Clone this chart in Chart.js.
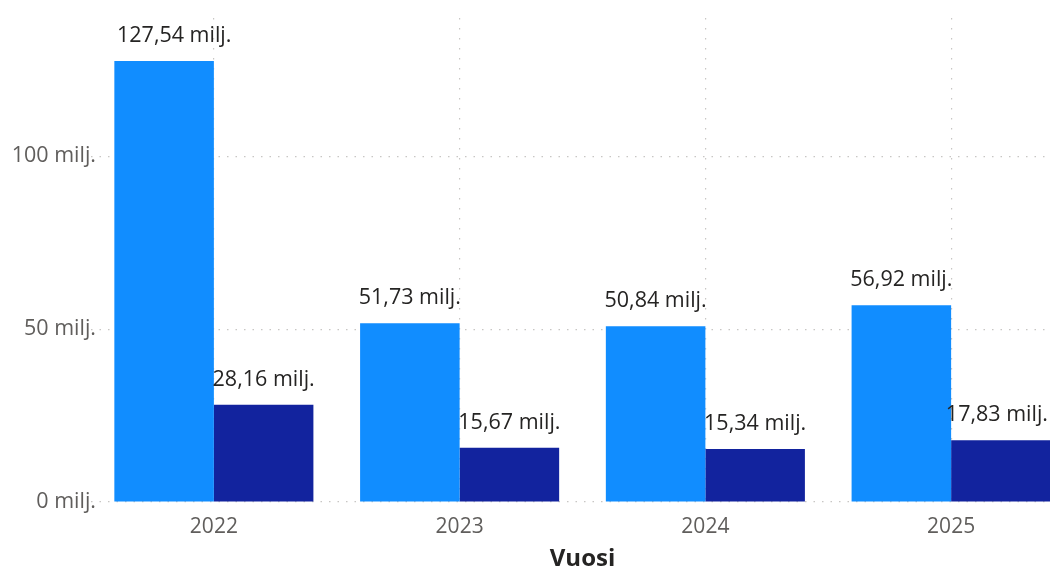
<!DOCTYPE html>
<html>
<head>
<meta charset="utf-8">
<script src="https://cdn.jsdelivr.net/npm/chart.js@4"></script>
<style>
  html, body { margin: 0; padding: 0; background: #fff; overflow: hidden; width: 1050px; height: 574px; }
  #wrap { position: absolute; left: 0; top: 0; width: 1074px; height: 574px; }
</style>
</head>
<body>
<div id="wrap"><canvas id="c" width="1074" height="574"></canvas></div>
<script>
const categories = ['2022', '2023', '2024', '2025'];
const seriesA = [127.54, 51.73, 50.84, 56.92];
const seriesB = [28.16, 15.67, 15.34, 17.83];
const yTicks = [0, 50, 100];

const FONT = "'Open Sans', 'Noto Sans', sans-serif";
const fmt = v => v.toFixed(2).replace('.', ',') + ' milj.';
const yFmt = v => v + ' milj.';
const VISIBLE_W = 1050;

const labelPlugin = {
  id: 'barLabels',
  afterDatasetsDraw(chart) {
    const ctx = chart.ctx;
    const xs = chart.scales.x;
    ctx.save();
    ctx.font = '21.5px ' + FONT;
    ctx.fillStyle = '#252423';
    ctx.textAlign = 'center';
    ctx.textBaseline = 'middle';
    const minL = xs.left + 26, maxR = VISIBLE_W - 2;
    chart.data.datasets.forEach((ds, di) => {
      const meta = chart.getDatasetMeta(di);
      meta.data.forEach((bar, i) => {
        const t = fmt(ds.data[i]);
        const w = ctx.measureText(t).width;
        let x = bar.x;
        if (x - w / 2 < minL) x = minL + w / 2;
        if (x + w / 2 > maxR) x = maxR - w / 2;
        ctx.fillText(t, x, bar.y - 25);
      });
    });
    ctx.restore();
  }
};

const yLabelPlugin = {
  id: 'yLabels',
  afterDraw(chart) {
    const ctx = chart.ctx;
    const y = chart.scales.y;
    ctx.save();
    ctx.font = '21.5px ' + FONT;
    ctx.fillStyle = '#605E5C';
    ctx.textAlign = 'right';
    ctx.textBaseline = 'middle';
    yTicks.forEach(v => {
      ctx.fillText(yFmt(v), y.right + 5, y.getPixelForValue(v));
    });
    ctx.restore();
  }
};

new Chart(document.getElementById('c'), {
  type: 'bar',
  data: {
    labels: categories,
    datasets: [
      { label: 'A', data: seriesA, backgroundColor: '#118DFF', borderWidth: 0 },
      { label: 'B', data: seriesB, backgroundColor: '#12239E', borderWidth: 0 }
    ]
  },
  options: {
    responsive: false,
    animation: false,
    layout: { padding: { top: 18, left: 0, right: 0, bottom: 0 } },
    plugins: { legend: { display: false }, tooltip: { enabled: false } },
    datasets: { bar: { categoryPercentage: 0.81, barPercentage: 1.0 } },
    scales: {
      x: {
        offset: true,
        border: { display: false, dash: [1.5, 8.5] },
        grid: { offset: false, drawTicks: false, color: '#C8C6C4', lineWidth: 1.2 },
        ticks: { color: '#605E5C', font: { family: FONT, size: 21 }, padding: 12, maxRotation: 0 },
        title: { display: true, text: 'Vuosi', color: '#252423', font: { family: FONT, size: 24, weight: 'bold' }, padding: { top: 0, bottom: 0 } },
        afterFit(scale) { scale.height = 72; }
      },
      y: {
        min: 0,
        max: 140,
        border: { display: false, dash: [1.5, 7] },
        grid: { drawTicks: false, color: '#C8C6C4', lineWidth: 1.2 },
        afterBuildTicks(scale) { scale.ticks = yTicks.map(v => ({ value: v })); },
        ticks: { display: false },
        afterFit(scale) { scale.width = 91; }
      }
    }
  },
  plugins: [labelPlugin, yLabelPlugin]
});
</script>
</body>
</html>
